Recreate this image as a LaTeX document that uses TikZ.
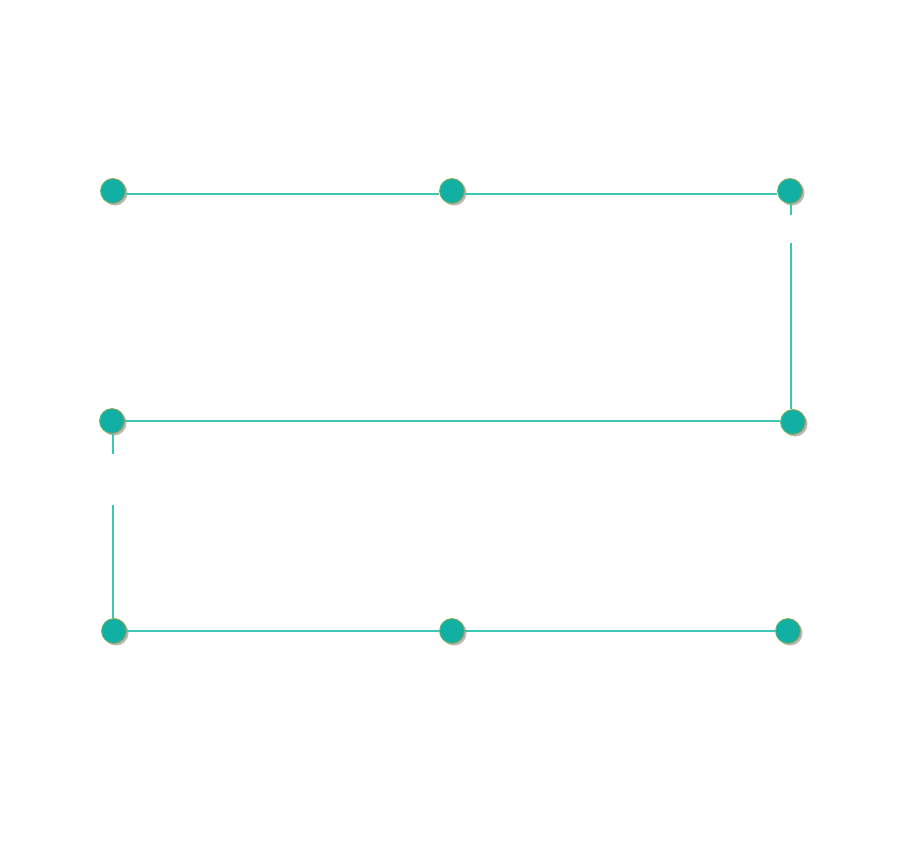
\documentclass[tikz,border=0pt]{standalone}
\usepackage{xcolor}
\usepackage{tikz}
\usetikzlibrary{shadows,positioning}

\definecolor{dotfill}{HTML}{12B0A4}
\definecolor{dotedge}{HTML}{9AA850}
\definecolor{linkcol}{HTML}{3CC6B6}

\begin{document}
\begin{tikzpicture}[x=1pt, y=-1pt,
  dot/.style={circle, draw=dotedge, line width=0.8pt, fill=dotfill, minimum size=25pt, inner sep=0pt,
    drop shadow={shadow xshift=2pt, shadow yshift=-2pt, fill=black!35, opacity=0.8}},
  link/.style={draw=linkcol, line width=1.6pt}]
\useasboundingbox (0,0) rectangle (900,856);

% nodes
\node[dot] (tl) at (113,191) {};
\node[dot] (tm) at (452,191) {};
\node[dot] (tr) at (790,191) {};
\node[dot] (ml) at (112,421) {};
\node[dot] (mr) at (793,422) {};
\node[dot] (bl) at (114,631) {};
\node[dot] (bm) at (452,631) {};
\node[dot] (br) at (788,631) {};

% gaps in the vertical links
\coordinate (rgapa) at (791,215);
\coordinate (rgapb) at (791,243);
\coordinate (lgapa) at (113,454);
\coordinate (lgapb) at (113,505);

\path[link] ([yshift=-3pt]tl.east) -- ([yshift=-3pt]tm.west);
\path[link] ([yshift=-3pt]tm.east) -- ([yshift=-3pt]tr.west);
\path[link] (tr.south -| rgapa) -- (rgapa);
\path[link] (rgapb) -- (mr.north -| rgapb);
\path[link] (ml.east) -- (ml.east -| mr.west);
\path[link] (ml.south -| lgapa) -- (lgapa);
\path[link] (lgapb) -- (bl.north -| lgapb);
\path[link] (bl.east) -- (bm.west);
\path[link] (bm.east) -- (br.west);
\end{tikzpicture}
\end{document}
